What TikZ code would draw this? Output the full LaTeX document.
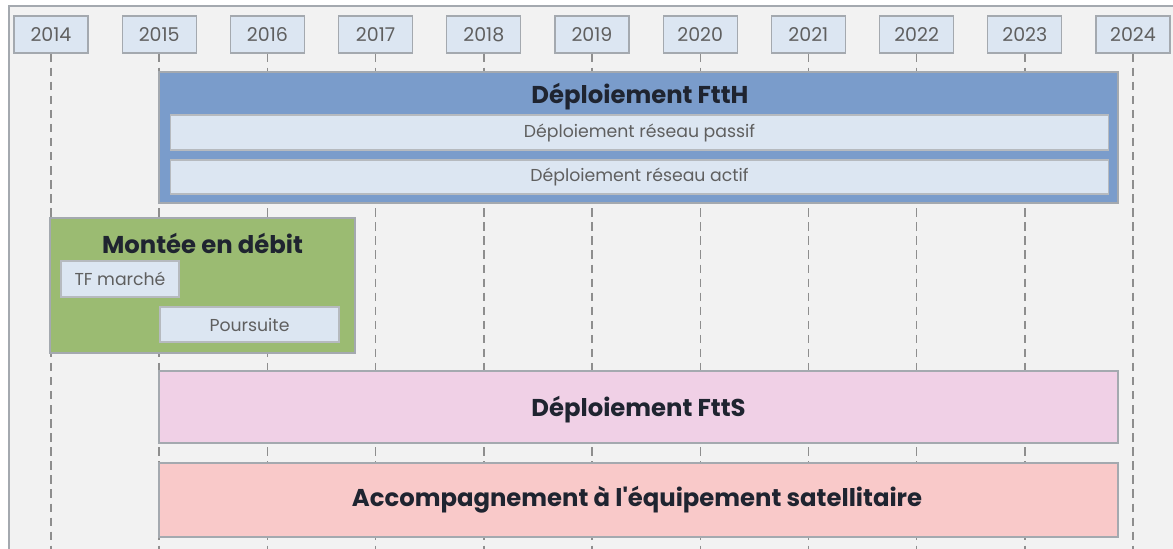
\documentclass[tikz,border=0pt]{standalone}
\usepackage{fontspec}
\setmainfont{Poppins}[Ligatures=TeXOff]
\usetikzlibrary{positioning}
\definecolor{bgframe}{HTML}{F2F2F2}
\definecolor{framegray}{HTML}{A4A9AF}
\definecolor{yearfill}{HTML}{DCE6F2}
\definecolor{ftthblue}{HTML}{7A9CCB}
\definecolor{mededgreen}{HTML}{9BBB72}
\definecolor{fttspink}{HTML}{F0D0E6}
\definecolor{satsalmon}{HTML}{F9C9C9}
\definecolor{textdark}{HTML}{1F2430}
\definecolor{textgray}{HTML}{5F5F5F}
\definecolor{dashgray}{HTML}{8E8E8E}
\begin{document}
\begin{tikzpicture}[x=0.025cm, y=-0.025cm,
    yearbox/.style={draw=framegray, fill=yearfill, line width=0.8pt, minimum width=1.85cm,
      minimum height=0.925cm, inner sep=0pt, text=textgray, font=\fontsize{13.5}{15}\selectfont},
    phasebox/.style={draw=framegray, line width=1.2pt, inner sep=0pt},
    subbar/.style={draw=framegray!80, fill=yearfill, line width=0.8pt, inner sep=0pt,
      text=textgray, font=\fontsize{12.3}{14}\selectfont},
    phasetitle/.style={text=textdark, font=\bfseries\fontsize{17.3}{19}\selectfont, inner sep=0pt}]
  \useasboundingbox (0,0) rectangle (1173,548);
  % outer frame
  \draw[framegray, line width=1.5pt, fill=bgframe] (9,6) rectangle (1200,580);
  % year labels and dashed guides
  \foreach \yr [count=\i from 0] in {2014,...,2024} {
    \node[yearbox] (y\yr) at ({51+108.2*\i}, 34.5) {\yr};
    \coordinate (g\yr) at ({51+108.2*\i}, 560);
    \draw[dashgray, line width=1pt, dash pattern=on 6pt off 4pt] (y\yr.south) -- (g\yr);
  }
  % FttH deployment
  \node[phasebox, fill=ftthblue, minimum width=23.975cm, minimum height=3.275cm] (ftth) at (638.5,137.5) {};
  \node[phasetitle] (ftthtitle) at (640,97) {Déploiement FttH};
  \node[subbar, minimum width=23.425cm, minimum height=0.875cm] (passif) at (639.5,132.5) {Déploiement réseau passif};
  \node[subbar, minimum width=23.425cm, minimum height=0.85cm] (actif) at (639.5,177) {Déploiement réseau actif};
  % montee en debit
  \node[phasebox, fill=mededgreen, minimum width=7.625cm, minimum height=3.375cm] (med) at (202.5,285.5) {};
  \node[phasetitle] (medtitle) at (202.5,243) {Montée en débit};
  \node[subbar, minimum width=2.95cm, minimum height=0.9cm] (tfmarche) at (120,279) {TF marché};
  \node[subbar, minimum width=4.475cm, minimum height=0.875cm] (poursuite) at (249.5,324.5) {Poursuite};
  % FttS deployment
  \node[phasebox, fill=fttspink, minimum width=23.975cm, minimum height=1.8cm] (ftts) at (638.5,407) {};
  \node[phasetitle] (fttstitle) at (638.5,410) {Déploiement FttS};
  % satellite
  \node[phasebox, fill=satsalmon, minimum width=23.975cm, minimum height=1.85cm] (sat) at (638.5,500) {};
  \node[phasetitle] (sattitle) at (637,500) {Accompagnement à l'équipement satellitaire};
\end{tikzpicture}
\end{document}
